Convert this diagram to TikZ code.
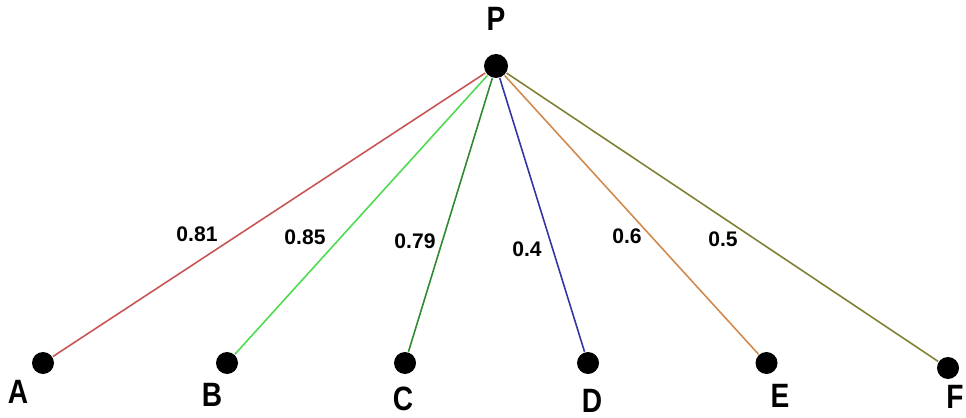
\documentclass[tikz,border=0pt]{standalone}
\usepackage{fontspec}
\setmainfont{Liberation Sans}
\usepackage{xcolor}
\usepackage{tikz}
\definecolor{edgeA}{HTML}{C85454}
\definecolor{edgeB}{HTML}{4FDA4F}
\definecolor{edgeC}{HTML}{2E8A2E}
\definecolor{edgeD}{HTML}{3434A4}
\definecolor{edgeE}{HTML}{D08A4C}
\definecolor{edgeF}{HTML}{808034}
\tikzstyle{centered} = [align=center, text centered, font=\bfseries]
\tikzstyle{dnode} = [circle, fill=black, minimum size=0.44cm, inner sep=0pt]
\tikzstyle{lnode} = [centered, inner sep=0pt, font=\fontsize{16}{16}\selectfont\bfseries, yscale=1.2, transform shape]
\tikzstyle{wnode} = [centered, inner sep=0pt, font=\fontsize{12}{12}\selectfont\bfseries]

\begin{document}
\begin{tikzpicture}
            [every path/.style={line width=0.9pt}]
              \useasboundingbox (0,0) rectangle (19.32,8.34);
              \node [dnode, minimum size=0.48cm](p) at (9.92, 7.02) {};
              \node [dnode](a) at (0.86, 1.08) {};
              \node [dnode](b) at (4.54, 1.08) {};
              \node [dnode](c) at (8.10, 1.08) {};
              \node [dnode](d) at (11.76, 1.08) {};
              \node [dnode](e) at (15.33, 1.08) {};
              \node [dnode](f) at (18.96, 0.98) {};

              \node [lnode](lp) at (9.92, 7.96) {P};
              \node [lnode](la) at (0.36, 0.50) {A};
              \node [lnode](lb) at (4.24, 0.44) {B};
              \node [lnode](lc) at (8.06, 0.36) {C};
              \node [lnode](ld) at (11.84, 0.32) {D};
              \node [lnode](le) at (15.60, 0.42) {E};
              \node [lnode](lf) at (19.10, 0.40) {F};

              % weighted edges from the top node
              \draw [edgeA] (p) -- (a);
              \draw [edgeB] (p) -- (b);
              \draw [edgeC] (p) -- (c);
              \draw [edgeD] (p) -- (d);
              \draw [edgeE] (p) -- (e);
              \draw [edgeF] (p) -- (f);

              \node [wnode](wa) at (3.94, 3.66) {0.81};
              \node [wnode](wb) at (6.10, 3.60) {0.85};
              \node [wnode](wc) at (8.30, 3.52) {0.79};
              \node [wnode](wd) at (10.54, 3.36) {0.4};
              \node [wnode](we) at (12.54, 3.62) {0.6};
              \node [wnode](wf) at (14.46, 3.56) {0.5};
            \end{tikzpicture}
\end{document}
